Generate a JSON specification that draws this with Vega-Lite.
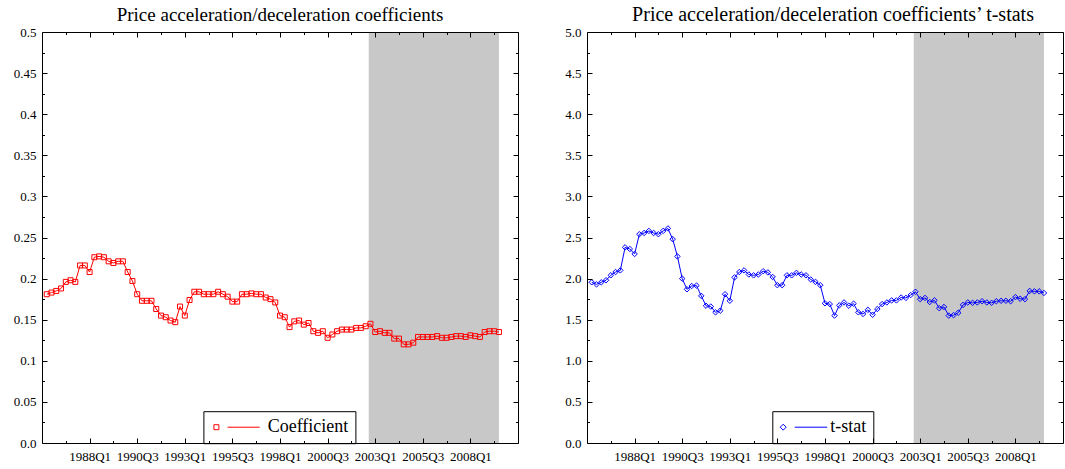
{
  "$schema": "https://vega.github.io/schema/vega-lite/v6.json",
  "padding": {"left": 13, "top": 5, "right": 0, "bottom": 0},
  "datasets": {
    "shade": [{"start": 2002.66, "end": 2009.5, "low": 0, "highCoef": 0.5, "highT": 5}],
    "series": [
      {"t": 1985.75, "coef": 0.181, "tstat": 1.955},
      {"t": 1986.0, "coef": 0.183, "tstat": 1.93},
      {"t": 1986.25, "coef": 0.185, "tstat": 1.955},
      {"t": 1986.5, "coef": 0.188, "tstat": 1.98},
      {"t": 1986.75, "coef": 0.196, "tstat": 2.04},
      {"t": 1987.0, "coef": 0.198, "tstat": 2.08},
      {"t": 1987.25, "coef": 0.196, "tstat": 2.10},
      {"t": 1987.5, "coef": 0.216, "tstat": 2.38},
      {"t": 1987.75, "coef": 0.216, "tstat": 2.36},
      {"t": 1988.0, "coef": 0.208, "tstat": 2.30},
      {"t": 1988.25, "coef": 0.226, "tstat": 2.54},
      {"t": 1988.5, "coef": 0.227, "tstat": 2.555},
      {"t": 1988.75, "coef": 0.226, "tstat": 2.58},
      {"t": 1989.0, "coef": 0.221, "tstat": 2.555},
      {"t": 1989.25, "coef": 0.219, "tstat": 2.54},
      {"t": 1989.5, "coef": 0.221, "tstat": 2.58},
      {"t": 1989.75, "coef": 0.221, "tstat": 2.61},
      {"t": 1990.0, "coef": 0.208, "tstat": 2.48},
      {"t": 1990.25, "coef": 0.197, "tstat": 2.27},
      {"t": 1990.5, "coef": 0.181, "tstat": 2.00},
      {"t": 1990.75, "coef": 0.173, "tstat": 1.87},
      {"t": 1991.0, "coef": 0.173, "tstat": 1.91},
      {"t": 1991.25, "coef": 0.173, "tstat": 1.915},
      {"t": 1991.5, "coef": 0.163, "tstat": 1.79},
      {"t": 1991.75, "coef": 0.155, "tstat": 1.67},
      {"t": 1992.0, "coef": 0.153, "tstat": 1.66},
      {"t": 1992.25, "coef": 0.149, "tstat": 1.59},
      {"t": 1992.5, "coef": 0.147, "tstat": 1.61},
      {"t": 1992.75, "coef": 0.166, "tstat": 1.81},
      {"t": 1993.0, "coef": 0.155, "tstat": 1.73},
      {"t": 1993.25, "coef": 0.174, "tstat": 2.015},
      {"t": 1993.5, "coef": 0.184, "tstat": 2.08},
      {"t": 1993.75, "coef": 0.184, "tstat": 2.10},
      {"t": 1994.0, "coef": 0.181, "tstat": 2.05},
      {"t": 1994.25, "coef": 0.181, "tstat": 2.04},
      {"t": 1994.5, "coef": 0.181, "tstat": 2.05},
      {"t": 1994.75, "coef": 0.184, "tstat": 2.09},
      {"t": 1995.0, "coef": 0.181, "tstat": 2.075},
      {"t": 1995.25, "coef": 0.178, "tstat": 2.02},
      {"t": 1995.5, "coef": 0.172, "tstat": 1.92},
      {"t": 1995.75, "coef": 0.172, "tstat": 1.92},
      {"t": 1996.0, "coef": 0.181, "tstat": 2.04},
      {"t": 1996.25, "coef": 0.181, "tstat": 2.04},
      {"t": 1996.5, "coef": 0.182, "tstat": 2.07},
      {"t": 1996.75, "coef": 0.181, "tstat": 2.05},
      {"t": 1997.0, "coef": 0.181, "tstat": 2.04},
      {"t": 1997.25, "coef": 0.177, "tstat": 1.99},
      {"t": 1997.5, "coef": 0.175, "tstat": 1.96},
      {"t": 1997.75, "coef": 0.171, "tstat": 1.92},
      {"t": 1998.0, "coef": 0.155, "tstat": 1.70},
      {"t": 1998.25, "coef": 0.153, "tstat": 1.69},
      {"t": 1998.5, "coef": 0.141, "tstat": 1.55},
      {"t": 1998.75, "coef": 0.148, "tstat": 1.675},
      {"t": 1999.0, "coef": 0.149, "tstat": 1.71},
      {"t": 1999.25, "coef": 0.144, "tstat": 1.67},
      {"t": 1999.5, "coef": 0.146, "tstat": 1.695},
      {"t": 1999.75, "coef": 0.136, "tstat": 1.59},
      {"t": 2000.0, "coef": 0.134, "tstat": 1.57},
      {"t": 2000.25, "coef": 0.136, "tstat": 1.62},
      {"t": 2000.5, "coef": 0.128, "tstat": 1.56},
      {"t": 2000.75, "coef": 0.132, "tstat": 1.63},
      {"t": 2001.0, "coef": 0.136, "tstat": 1.69},
      {"t": 2001.25, "coef": 0.138, "tstat": 1.71},
      {"t": 2001.5, "coef": 0.138, "tstat": 1.735},
      {"t": 2001.75, "coef": 0.138, "tstat": 1.735},
      {"t": 2002.0, "coef": 0.140, "tstat": 1.77},
      {"t": 2002.25, "coef": 0.140, "tstat": 1.765},
      {"t": 2002.5, "coef": 0.142, "tstat": 1.80},
      {"t": 2002.75, "coef": 0.145, "tstat": 1.84},
      {"t": 2003.0, "coef": 0.135, "tstat": 1.75},
      {"t": 2003.25, "coef": 0.136, "tstat": 1.765},
      {"t": 2003.5, "coef": 0.134, "tstat": 1.715},
      {"t": 2003.75, "coef": 0.134, "tstat": 1.735},
      {"t": 2004.0, "coef": 0.127, "tstat": 1.64},
      {"t": 2004.25, "coef": 0.127, "tstat": 1.655},
      {"t": 2004.5, "coef": 0.120, "tstat": 1.55},
      {"t": 2004.75, "coef": 0.120, "tstat": 1.555},
      {"t": 2005.0, "coef": 0.122, "tstat": 1.585},
      {"t": 2005.25, "coef": 0.129, "tstat": 1.68},
      {"t": 2005.5, "coef": 0.129, "tstat": 1.71},
      {"t": 2005.75, "coef": 0.129, "tstat": 1.705},
      {"t": 2006.0, "coef": 0.129, "tstat": 1.71},
      {"t": 2006.25, "coef": 0.130, "tstat": 1.725},
      {"t": 2006.5, "coef": 0.128, "tstat": 1.71},
      {"t": 2006.75, "coef": 0.128, "tstat": 1.705},
      {"t": 2007.0, "coef": 0.129, "tstat": 1.725},
      {"t": 2007.25, "coef": 0.130, "tstat": 1.73},
      {"t": 2007.5, "coef": 0.130, "tstat": 1.73},
      {"t": 2007.75, "coef": 0.129, "tstat": 1.725},
      {"t": 2008.0, "coef": 0.131, "tstat": 1.775},
      {"t": 2008.25, "coef": 0.130, "tstat": 1.755},
      {"t": 2008.5, "coef": 0.129, "tstat": 1.75},
      {"t": 2008.75, "coef": 0.135, "tstat": 1.85},
      {"t": 2009.0, "coef": 0.136, "tstat": 1.845},
      {"t": 2009.25, "coef": 0.136, "tstat": 1.845},
      {"t": 2009.5, "coef": 0.135, "tstat": 1.825}
    ]
  },
  "spacing": 45,
  "hconcat": [
    {
      "width": 476,
      "height": 411,
      "title": {"text": "Price acceleration/deceleration coefficients"},
      "layer": [
        {
          "data": {"name": "shade"},
          "mark": {"type": "rect", "color": "#c8c8c8"},
          "encoding": {
            "x": {"field": "start", "type": "quantitative",
              "scale": {"domain": [1985.5, 2010.5], "nice": false, "zero": false},
              "axis": {"orient": "top", "labels": false, "title": null, "grid": false, "domain": true, "domainColor": "black",
                "values": [1986.75, 1988, 1989.25, 1990.5, 1991.75, 1993, 1994.25, 1995.5, 1996.75, 1998, 1999.25, 2000.5, 2001.75, 2003, 2004.25, 2005.5, 2006.75, 2008, 2009.25],
                "tickSize": {"condition": {"test": "abs((datum.value-1988)/2.5 - round((datum.value-1988)/2.5)) < 0.001", "value": -5}, "value": -2.5},
                "tickColor": "black", "zindex": 1}},
            "x2": {"field": "end"},
            "y": {"field": "low", "type": "quantitative",
              "scale": {"domain": [0, 0.5], "nice": false},
              "axis": {"orient": "right", "labels": false, "title": null, "grid": false, "domain": true, "domainColor": "black",
                "values": [0, 0.025, 0.05, 0.075, 0.1, 0.125, 0.15, 0.175, 0.2, 0.225, 0.25, 0.275, 0.3, 0.325, 0.35, 0.375, 0.4, 0.425, 0.45, 0.475, 0.5],
                "tickSize": {"condition": {"test": "abs(datum.value/0.05 - round(datum.value/0.05)) < 0.001", "value": -5}, "value": -2.5},
                "tickColor": "black", "zindex": 1}},
            "y2": {"field": "highCoef"}
          }
        },
        {
          "data": {"name": "series"},
          "mark": {"type": "line", "strokeWidth": 1},
          "encoding": {
            "x": {"field": "t", "type": "quantitative",
              "axis": {"orient": "bottom", "title": null, "grid": false, "domain": true, "domainColor": "black",
                "values": [1986.75, 1988, 1989.25, 1990.5, 1991.75, 1993, 1994.25, 1995.5, 1996.75, 1998, 1999.25, 2000.5, 2001.75, 2003, 2004.25, 2005.5, 2006.75, 2008, 2009.25],
                "tickSize": {"condition": {"test": "abs((datum.value-1988)/2.5 - round((datum.value-1988)/2.5)) < 0.001", "value": -5}, "value": -2.5},
                "labelExpr": "abs((datum.value-1988)/2.5 - round((datum.value-1988)/2.5)) < 0.001 ? (floor(datum.value) + 'Q' + (round((datum.value - floor(datum.value))*4)+1)) : ''",
                "labelPadding": 12, "labelOverlap": false, "labelFlush": false,
                "tickColor": "black", "zindex": 1}},
            "y": {"field": "coef", "type": "quantitative",
              "axis": {"orient": "left", "title": null, "grid": false, "domain": true, "domainColor": "black",
                "values": [0, 0.025, 0.05, 0.075, 0.1, 0.125, 0.15, 0.175, 0.2, 0.225, 0.25, 0.275, 0.3, 0.325, 0.35, 0.375, 0.4, 0.425, 0.45, 0.475, 0.5],
                "tickSize": {"condition": {"test": "abs(datum.value/0.05 - round(datum.value/0.05)) < 0.001", "value": -5}, "value": -2.5},
                "labelExpr": "abs(datum.value/0.05 - round(datum.value/0.05)) < 0.001 ? (datum.value == 0 ? '0.0' : '' + datum.value) : ''",
                "labelPadding": 11, "labelOverlap": false, "labelFlush": false,
                "tickColor": "black", "zindex": 1}},
            "color": {"datum": "Coefficient", "type": "nominal", "scale": {"range": ["#ff0000"]},
              "legend": {"orient": "none", "legendX": 161.4, "legendY": 379.2, "title": null,
                "strokeColor": "black", "fillColor": "white", "padding": 7,
                "symbolType": "M-0.83,-0.83H0.83V0.83H-0.83Z M3.73,0H14.43",
                "symbolSize": 36, "symbolStrokeWidth": 1, "symbolFillColor": "transparent", "symbolStrokeColor": "#ff0000",
                "symbolOffset": -3, "labelOffset": 42.3,
                "labelExpr": "datum.label + ' '"}}
          }
        },
        {
          "data": {"name": "series"},
          "mark": {"type": "point", "shape": "square", "filled": false, "size": 25, "color": "#ff0000", "strokeWidth": 1, "opacity": 1},
          "encoding": {
            "x": {"field": "t", "type": "quantitative", "axis": null},
            "y": {"field": "coef", "type": "quantitative", "axis": null}
          }
        }
      ],
      "resolve": {"axis": {"x": "independent", "y": "independent"}}
    },
    {
      "width": 476,
      "height": 411,
      "title": {"text": "Price acceleration/deceleration coefficients’ t-stats", "dx": 8, "fontSize": 20},
      "layer": [
        {
          "data": {"name": "shade"},
          "mark": {"type": "rect", "color": "#c8c8c8"},
          "encoding": {
            "x": {"field": "start", "type": "quantitative",
              "scale": {"domain": [1985.5, 2010.5], "nice": false, "zero": false},
              "axis": {"orient": "top", "labels": false, "title": null, "grid": false, "domain": true, "domainColor": "black",
                "values": [1986.75, 1988, 1989.25, 1990.5, 1991.75, 1993, 1994.25, 1995.5, 1996.75, 1998, 1999.25, 2000.5, 2001.75, 2003, 2004.25, 2005.5, 2006.75, 2008, 2009.25],
                "tickSize": {"condition": {"test": "abs((datum.value-1988)/2.5 - round((datum.value-1988)/2.5)) < 0.001", "value": -5}, "value": -2.5},
                "tickColor": "black", "zindex": 1}},
            "x2": {"field": "end"},
            "y": {"field": "low", "type": "quantitative",
              "scale": {"domain": [0, 5], "nice": false},
              "axis": {"orient": "right", "labels": false, "title": null, "grid": false, "domain": true, "domainColor": "black",
                "values": [0, 0.25, 0.5, 0.75, 1, 1.25, 1.5, 1.75, 2, 2.25, 2.5, 2.75, 3, 3.25, 3.5, 3.75, 4, 4.25, 4.5, 4.75, 5],
                "tickSize": {"condition": {"test": "abs(datum.value/0.5 - round(datum.value/0.5)) < 0.001", "value": -5}, "value": -2.5},
                "tickColor": "black", "zindex": 1}},
            "y2": {"field": "highT"}
          }
        },
        {
          "data": {"name": "series"},
          "mark": {"type": "line", "strokeWidth": 1},
          "encoding": {
            "x": {"field": "t", "type": "quantitative",
              "axis": {"orient": "bottom", "title": null, "grid": false, "domain": true, "domainColor": "black",
                "values": [1986.75, 1988, 1989.25, 1990.5, 1991.75, 1993, 1994.25, 1995.5, 1996.75, 1998, 1999.25, 2000.5, 2001.75, 2003, 2004.25, 2005.5, 2006.75, 2008, 2009.25],
                "tickSize": {"condition": {"test": "abs((datum.value-1988)/2.5 - round((datum.value-1988)/2.5)) < 0.001", "value": -5}, "value": -2.5},
                "labelExpr": "abs((datum.value-1988)/2.5 - round((datum.value-1988)/2.5)) < 0.001 ? (floor(datum.value) + 'Q' + (round((datum.value - floor(datum.value))*4)+1)) : ''",
                "labelPadding": 12, "labelOverlap": false, "labelFlush": false,
                "tickColor": "black", "zindex": 1}},
            "y": {"field": "tstat", "type": "quantitative",
              "axis": {"orient": "left", "title": null, "grid": false, "domain": true, "domainColor": "black",
                "values": [0, 0.25, 0.5, 0.75, 1, 1.25, 1.5, 1.75, 2, 2.25, 2.5, 2.75, 3, 3.25, 3.5, 3.75, 4, 4.25, 4.5, 4.75, 5],
                "tickSize": {"condition": {"test": "abs(datum.value/0.5 - round(datum.value/0.5)) < 0.001", "value": -5}, "value": -2.5},
                "labelExpr": "abs(datum.value/0.5 - round(datum.value/0.5)) < 0.001 ? format(datum.value, '.1f') : ''",
                "labelPadding": 11, "labelOverlap": false, "labelFlush": false,
                "tickColor": "black", "zindex": 1}},
            "color": {"datum": "t-stat", "type": "nominal", "scale": {"range": ["#0000ff"]},
              "legend": {"orient": "none", "legendX": 185.3, "legendY": 379.2, "title": null,
                "strokeColor": "black", "fillColor": "white", "padding": 7,
                "symbolType": "M0,-1L1,0L0,1L-1,0Z M3.83,0H14.67",
                "symbolSize": 36, "symbolStrokeWidth": 1, "symbolFillColor": "transparent", "symbolStrokeColor": "#0000ff",
                "symbolOffset": -5.1, "labelOffset": 38,
                "labelExpr": "datum.label + ' '"}}
          }
        },
        {
          "data": {"name": "series"},
          "mark": {"type": "point", "shape": "diamond", "filled": false, "size": 30, "color": "#0000ff", "strokeWidth": 1, "opacity": 1},
          "encoding": {
            "x": {"field": "t", "type": "quantitative", "axis": null},
            "y": {"field": "tstat", "type": "quantitative", "axis": null}
          }
        }
      ],
      "resolve": {"axis": {"x": "independent", "y": "independent"}}
    }
  ],
  "resolve": {"scale": {"color": "independent"}, "legend": {"color": "independent"}},
  "config": {
    "font": "Liberation Serif",
    "view": {"stroke": null},
    "axis": {"labelFont": "Liberation Serif", "labelFontSize": 13, "labelColor": "black", "minExtent": 0},
    "legend": {"labelFont": "Liberation Serif", "labelFontSize": 18, "labelColor": "black"},
    "title": {"font": "Liberation Serif", "fontSize": 19, "fontWeight": "normal", "color": "black", "anchor": "middle", "baseline": "alphabetic", "offset": 1},
    "line": {"strokeWidth": 1}
  }
}
